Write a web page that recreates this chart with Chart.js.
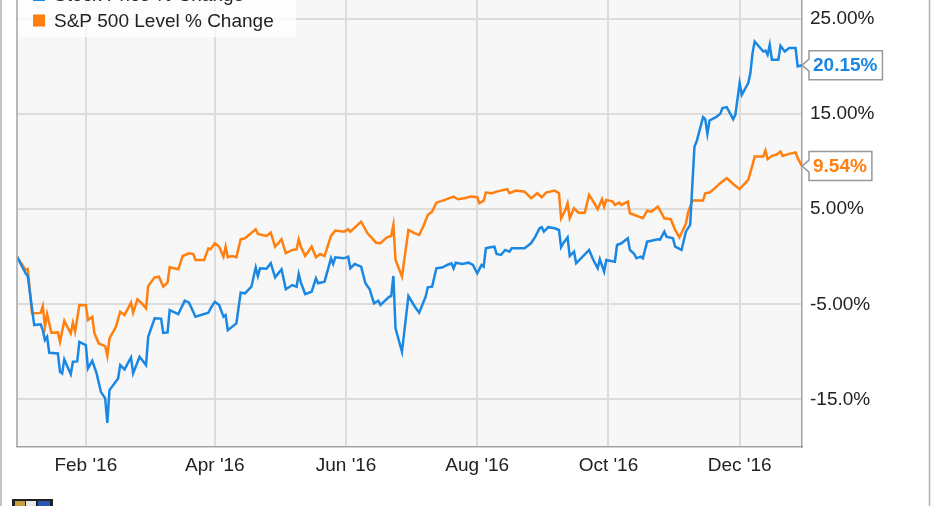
<!DOCTYPE html>
<html>
<head>
<meta charset="utf-8">
<script src="https://cdn.jsdelivr.net/npm/chart.js@4.4.1/dist/chart.umd.min.js"></script>
<style>
  html, body { margin: 0; padding: 0; background: #fff; }
  #wrap { position: relative; width: 931px; height: 506px; overflow: hidden; }
  #myChart { position: absolute; left: 0; top: -40px; }
</style>
</head>
<body>
<div id="wrap"><canvas id="myChart" width="931" height="546"></canvas></div>
<script>
    // days counted from Dec 31 2015
    var stockLabel = 'Stock Price % Change';
    var stockDays = [0,4,5,8,11,12,13,14,15,19,20,21,22,25,26,28,29,32,33,35,37,39,41,42,43,47,48,50,53,54,57,60,61,64,67,68,70,71,75,78,80,83,89,90,92,94,96,97,98,102,104,106,109,111,112,113,116,118,120,123,125,128,130,131,132,134,137,139,140,143,146,147,148,152,154,155,157,160,162,164,166,168,169,173,174,175,176,179,182,185,187,190,191,193,195,198,200,202,203,204,207,210,212,214,216,217,218,220,222,223,225,227,229,230,233,236,239,241,243,244,245,247,250,252,253,254,256,257,259,260,263,266,268,270,271,273,274,278,279,281,284,285,287,288,290,291,293,295,298,299,301,302,305,306,309,311,313,315,316,319,320,321,322,325,327,328,330,333,334,336,337,340,341,342,343,347,348,349,350,351,354,355,357,359,362,363,365];
    var stockValues = [0,-1.74,-2.02,-7.18,-7.1,-7.71,-8.76,-8.41,-10.09,-10.16,-12.09,-12.26,-10.79,-12.34,-11.04,-11.0,-8.94,-9.28,-11.74,-10.94,-12.26,-14.2,-14.89,-17.46,-14.02,-12.79,-11.39,-11.84,-10.58,-12.26,-10.52,-11.39,-8.41,-6.47,-6.5,-7.99,-7.95,-5.6,-6.02,-4.62,-4.83,-6.31,-5.88,-5.42,-4.73,-5.07,-6.31,-6.13,-7.71,-7.0,-3.78,-3.84,-3.15,-1.11,-2.02,-1.21,-1.25,-0.68,-2.16,-1.32,-3.42,-2.97,-3.15,-1.81,-2.73,-3.92,-3.67,-2.26,-2.79,-2.62,-0.16,-0.76,-0.05,-0.16,0.01,-1.21,-0.76,-1.04,-2.79,-3.42,-4.89,-4.62,-5.07,-4.2,-4.13,-2.02,-7.53,-9.99,-4.13,-5.25,-5.88,-4.2,-3.21,-3.15,-1.21,-1.11,-0.86,-0.68,-1.21,-0.62,-0.76,-0.62,-0.86,-1.74,-0.86,-1.04,0.89,1.0,1.06,0.29,0.19,0.72,0.54,0.89,0.89,0.89,1.42,2.12,3.0,3.11,2.64,3.11,3.0,2.82,1.0,1.42,2.05,0.08,0.54,-0.68,0.01,0.72,-0.34,-1.21,-0.26,-1.57,-0.34,-0.52,1.24,1.42,1.95,0.72,0.29,-0.16,0.01,-0.16,1.59,1.69,1.84,1.8,2.64,2.12,1.95,1.06,0.72,2.64,3.35,11.59,12.12,14.68,14.47,12.93,14.33,14.68,15.03,15.63,15.74,14.47,14.93,18.26,17.03,18.26,19.32,21.42,22.64,21.59,21.69,21.24,22.29,20.72,20.72,22.19,21.59,21.95,21.95,20.01,20.15];

    var spLabel = 'S&P 500 Level % Change';
    var spDays = [0,4,5,7,11,12,13,14,16,19,20,22,24,25,26,27,29,32,33,35,36,38,41,42,43,46,48,50,53,54,56,58,60,61,64,66,68,70,71,75,77,80,82,83,87,89,90,92,94,96,97,98,100,102,104,106,111,112,116,118,120,123,125,128,130,131,132,134,137,139,141,143,146,148,152,154,155,160,163,167,169,172,174,175,176,179,182,185,187,189,191,193,195,199,201,203,205,208,211,214,215,217,218,221,223,225,228,229,232,236,239,242,244,246,250,252,253,255,256,257,259,261,264,266,268,270,272,273,274,277,278,280,281,284,285,291,293,295,298,301,304,306,308,311,312,314,319,320,322,324,327,330,333,336,340,342,343,347,348,349,351,353,355,356,359,362,363,365];
    var spValues = [0,-1.39,-1.3,-5.95,-5.9,-5.18,-7.36,-6.02,-7.99,-7.95,-8.94,-6.73,-7.63,-8.05,-6.94,-7.88,-5.07,-5.1,-6.65,-6.31,-8.05,-9.11,-9.39,-10.44,-8.58,-7.36,-5.78,-6.13,-4.83,-5.88,-4.47,-4.89,-5.42,-3.07,-2.16,-2.09,-3.15,-2.73,-1.11,-1.32,0.08,0.37,0.29,-0.34,-0.34,0.89,0.79,1.42,1.06,0.01,1.06,-0.05,0.08,-0.05,1.84,1.95,2.89,2.4,2.19,2.54,1.06,1.84,0.37,0.72,0.79,1.84,1.06,0.08,1.06,-0.05,0.29,0.08,2.19,2.75,2.64,2.89,2.64,3.69,2.47,1.48,1.42,2.05,2.19,3.35,-0.34,-2.09,2.82,2.47,2.29,3.24,4.4,4.75,5.69,5.98,6.16,6.33,6.05,6.16,6.33,6.26,5.63,5.91,6.75,6.68,6.85,6.96,7.11,6.68,6.96,6.85,6.16,6.68,6.26,6.75,6.96,6.68,4.05,4.93,5.63,4.05,5.11,4.64,4.64,6.51,5.8,5.0,6.05,5.27,5.98,5.8,5.45,5.69,5.45,5.8,4.58,4.05,4.85,4.75,5.27,4.05,3.95,2.82,2.05,3.45,4.64,5.91,5.91,6.68,6.75,7.11,7.74,8.26,7.66,7.11,8.08,9.66,10.54,10.54,11.17,10.26,10.61,10.72,11.06,10.61,10.82,10.96,10.37,9.54];

    var xTickDays = [32, 92, 153, 214, 275, 336];
    var xTickLabels = ["Feb '16", "Apr '16", "Jun '16", "Aug '16", "Oct '16", "Dec '16"];
    var yTickValues = [25, 15, 5, -5, -15];
    var yTickLabels = ['25.00%', '15.00%', '5.00%', '-5.00%', '-15.0%'];

    var blue = '#1a88e3';
    var orange = '#ff7f0f';
    var fontFamily = "'Liberation Sans', Arial, sans-serif";
    var OFF = 40; // canvas is shifted up by this much

    function toPoints(days, vals) {
        var pts = [];
        for (let i = 0; i < days.length; i++) {
            pts.push({ x: days[i], y: vals[i] });
        }
        return pts;
    }

    const framePlugin = {
        id: 'frame',
        beforeDraw(chart) {
            const ctx = chart.ctx, a = chart.chartArea;
            ctx.save();
            ctx.fillStyle = '#f7f7f7';
            ctx.fillRect(a.left, a.top, a.right - a.left, a.bottom - a.top);
            ctx.restore();
        },
        afterDraw(chart) {
            const ctx = chart.ctx, a = chart.chartArea;
            ctx.save();
            ctx.strokeStyle = '#a3a3a3';
            ctx.lineWidth = 1.5;
            ctx.beginPath();
            ctx.moveTo(a.left, 0); ctx.lineTo(a.left, a.bottom);
            ctx.stroke();
            // outer frame
            ctx.strokeStyle = '#b0b0b0';
            ctx.beginPath();
            ctx.moveTo(1, 0); ctx.lineTo(1, chart.height);
            ctx.moveTo(929.5, 0); ctx.lineTo(929.5, chart.height);
            ctx.stroke();

            // legend
            ctx.fillStyle = 'rgba(255,255,255,0.75)';
            ctx.fillRect(a.left + 1, 0, 278, OFF + 37);
            const items = chart.data.datasets;
            ctx.font = '19px ' + fontFamily;
            ctx.textBaseline = 'middle';
            for (let i = 0; i < items.length; i++) {
                const cy = OFF - 5 + i * 25.5;
                ctx.fillStyle = items[i].borderColor;
                ctx.fillRect(33, cy - 6, 12, 12);
                ctx.fillStyle = '#222';
                ctx.fillText(items[i].label, 54, cy + 1);
            }

            // small logo, bottom left
            const ly = OFF + 499;
            ctx.fillStyle = '#222';
            ctx.fillRect(12, ly, 41, 8);
            ctx.fillStyle = '#c8a040';
            ctx.fillRect(15, ly + 2, 10, 6);
            ctx.fillStyle = '#e8e8e8';
            ctx.fillRect(26, ly + 2, 10, 6);
            ctx.fillStyle = '#2a55b0';
            ctx.fillRect(38, ly + 2, 12, 6);
            ctx.restore();
        }
    };

    const endLabelPlugin = {
        id: 'endLabels',
        afterDatasetsDraw(chart) {
            const ctx = chart.ctx;
            ctx.save();
            ctx.font = 'bold 19px ' + fontFamily;
            ctx.textBaseline = 'middle';
            chart.data.datasets.forEach(function(ds, i) {
                const meta = chart.getDatasetMeta(i);
                const last = meta.data[meta.data.length - 1];
                const txt = ds.data[ds.data.length - 1].y.toFixed(2) + '%';
                const w = ctx.measureText(txt).width + 9;
                const x0 = 809, y = last.y, h = 29;
                ctx.beginPath();
                ctx.moveTo(last.x, y);
                ctx.lineTo(x0, y - 6);
                ctx.lineTo(x0, y - h / 2);
                ctx.lineTo(x0 + w, y - h / 2);
                ctx.lineTo(x0 + w, y + h / 2);
                ctx.lineTo(x0, y + h / 2);
                ctx.lineTo(x0, y + 6);
                ctx.closePath();
                ctx.fillStyle = '#fff';
                ctx.fill();
                ctx.strokeStyle = '#999';
                ctx.lineWidth = 1.5;
                ctx.stroke();
                ctx.fillStyle = ds.borderColor;
                ctx.fillText(txt, x0 + 4, y + 1);
            });
            ctx.restore();
        }
    };

    const ctx = document.getElementById('myChart').getContext('2d');
    const myChart = new Chart(ctx, {
        type: 'line',
        data: {
            datasets: [{
                    label: stockLabel,
                    data: toPoints(stockDays, stockValues),
                    borderColor: blue,
                    backgroundColor: blue
                },
                {
                    label: spLabel,
                    data: toPoints(spDays, spValues),
                    borderColor: orange,
                    backgroundColor: orange
                }
            ]
        },
        options: {
            responsive: false,
            animation: false,
            devicePixelRatio: 1,
            layout: { padding: { left: 17, top: OFF, right: 0, bottom: 0 } },
            elements: {
                point: { radius: 0 },
                line: { borderWidth: 2.5, tension: 0 }
            },
            plugins: {
                legend: { display: false },
                tooltip: { enabled: false }
            },
            scales: {
                x: {
                    type: 'linear',
                    min: 0,
                    max: 365,
                    afterBuildTicks: function(scale) {
                        scale.ticks = xTickDays.map(function(d) { return { value: d }; });
                    },
                    afterFit: function(scale) { scale.height = 59; },
                    grid: { color: '#dcdcdc', lineWidth: 2, drawTicks: false },
                    border: { color: '#a3a3a3', width: 1.5 },
                    ticks: {
                        padding: 7,
                        maxRotation: 0,
                        autoSkip: false,
                        color: '#222',
                        font: { family: fontFamily, size: 19 },
                        callback: function(v) { return xTickLabels[xTickDays.indexOf(v)]; }
                    }
                },
                y: {
                    position: 'right',
                    min: -20,
                    max: 27,
                    afterBuildTicks: function(scale) {
                        scale.ticks = yTickValues.map(function(v) { return { value: v }; });
                    },
                    afterFit: function(scale) { scale.width = 129; },
                    grid: { color: '#dcdcdc', lineWidth: 2, drawTicks: false },
                    border: { color: '#a3a3a3', width: 1.5 },
                    ticks: {
                        padding: 8,
                        color: '#222',
                        font: { family: fontFamily, size: 19 },
                        callback: function(v) { return yTickLabels[yTickValues.indexOf(v)]; }
                    }
                }
            }
        },
        plugins: [framePlugin, endLabelPlugin]
    });
</script>
</body>
</html>
